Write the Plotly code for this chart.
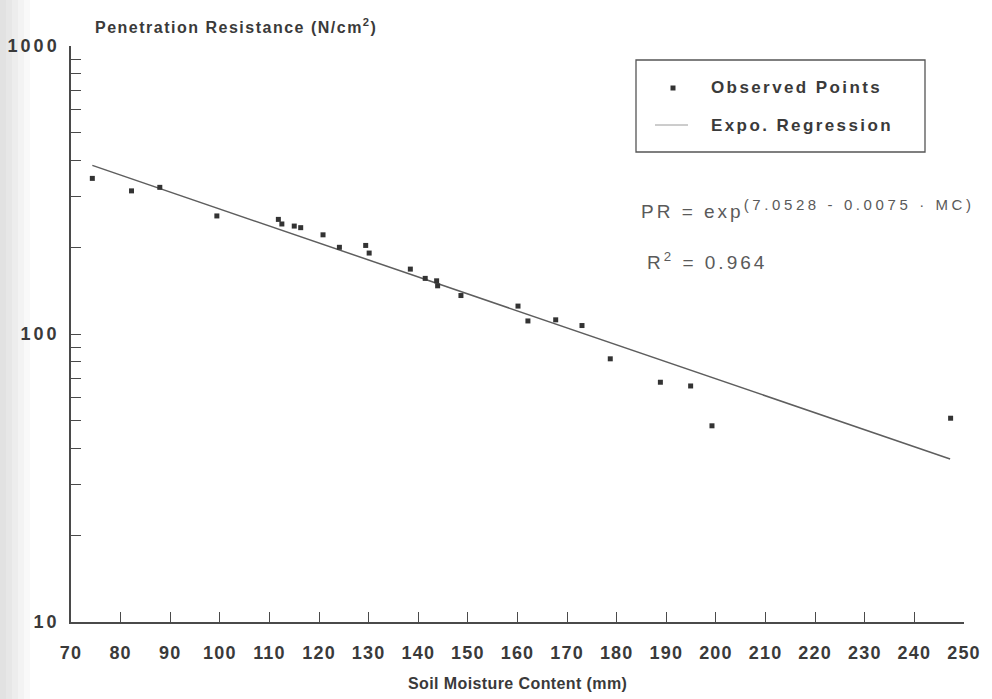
import plotly.graph_objects as go

# Observed soil moisture (mm) and penetration resistance (N/cm^2)
moisture_mm = [74.3, 82.2, 87.9, 99.4, 111.8, 112.5, 115.0, 116.3, 120.8, 124.1,
               129.4, 130.1, 138.4, 141.4, 143.7, 143.9, 148.6, 160.1, 162.1, 167.7,
               173.0, 178.7, 188.8, 194.9, 199.2, 247.3]
resistance = [347, 314, 323, 257, 250, 241, 237, 234, 221, 200,
              203, 191, 168, 156, 153, 147, 136, 125, 111, 112,
              107, 82, 68, 66, 48, 51]

# Exponential regression line end points
fit_mm = [74.3, 247.2]
fit_pr = [385, 36.8]

# Axis ticks
x_ticks = list(range(70, 251, 10))
y_major = [10, 100, 1000]
y_minor = [20, 30, 40, 50, 60, 70, 80, 90,
           200, 300, 400, 500, 600, 700, 800, 900]

W, H = 992, 699
L, R, T, B = 71, 28, 46, 77
PW, PH = W - L - R, H - T - B


def px(x):
    return (x - L) / PW


def py(y):
    return (H - B - y) / PH


def spaced(text, sp, size=None):
    extra = f"font-size:{size}px;" if size else ""
    return f"<span style='{extra}letter-spacing:{sp}px'>{text}</span>"


INK = "#3a3a3a"
AXIS = "#4a4a4a"

fig = go.Figure()
fig.add_trace(go.Scatter(
    x=fit_mm, y=fit_pr, mode="lines",
    line=dict(color="#5e5e5e", width=1.5),
    showlegend=False, hoverinfo="skip"))
fig.add_trace(go.Scatter(
    x=moisture_mm, y=resistance, mode="markers",
    marker=dict(symbol="square", size=5, color="#333333"),
    showlegend=False))

tick_font = dict(family="Liberation Sans, Arial, sans-serif", size=18, color=INK, weight="bold")

fig.update_xaxes(
    range=[70, 250], tickvals=x_ticks,
    ticktext=[spaced(str(v), 1.2) for v in x_ticks],
    showline=True, linecolor=AXIS, linewidth=1.5,
    ticks="inside", ticklen=10, tickwidth=1.2, tickcolor=AXIS,
    showgrid=False, zeroline=False, tickfont=tick_font, ticklabelstandoff=14)
fig.update_yaxes(
    type="log", range=[1, 3], tickvals=y_major,
    ticktext=[spaced(str(v), 3) for v in y_major],
    showline=True, linecolor=AXIS, linewidth=1.5,
    ticks="inside", ticklen=10, tickwidth=1.2, tickcolor=AXIS,
    minor=dict(tickvals=y_minor, ticks="inside", ticklen=10, tickwidth=1.2,
               tickcolor=AXIS, showgrid=False),
    showgrid=False, zeroline=False, tickfont=tick_font, ticklabelstandoff=6)

label_font = dict(family="Liberation Sans, Arial, sans-serif", size=16, color=INK, weight="bold")
eq_font = dict(family="Liberation Sans, Arial, sans-serif", size=19, color="#5a5a5a")

annotations = [
    dict(x=px(93), y=py(26), xanchor="left", yanchor="middle",
         text=spaced("Penetration Resistance (N/cm<sup>2</sup>)", 1.5), font=label_font),
    dict(x=px(517), y=py(683), xanchor="center", yanchor="middle",
         text=spaced("Soil Moisture Content (mm)", 0.4), font=dict(label_font, size=16)),
    dict(x=px(709), y=py(88), xanchor="left", yanchor="middle",
         text=spaced("Observed Points", 2.4), font=dict(label_font, size=17)),
    dict(x=px(709), y=py(125), xanchor="left", yanchor="middle",
         text=spaced("Expo. Regression", 2.4), font=dict(label_font, size=17)),
    dict(x=px(639), y=py(209), xanchor="left", yanchor="middle",
         text=spaced("PR = exp", 3) + "<sup>" + spaced("(7.0528 - 0.0075 · MC)", 3.6, 15) + "</sup>",
         font=eq_font),
    dict(x=px(645), y=py(261), xanchor="left", yanchor="middle",
         text=spaced("R<sup>2</sup> = 0.964", 3), font=eq_font),
]
for a in annotations:
    a.update(xref="paper", yref="paper", showarrow=False)

shapes = [
    # legend frame
    dict(type="rect", x0=px(636), x1=px(925), y0=py(60), y1=py(152),
         line=dict(color="#555555", width=1.3)),
    # legend symbols
    dict(type="rect", x0=px(670.5), x1=px(675.5), y0=py(85.5), y1=py(90.5),
         fillcolor="#333333", line=dict(width=0)),
    dict(type="line", x0=px(655), x1=px(688), y0=py(125), y1=py(125),
         line=dict(color="#9a9a9a", width=1)),
]
# faint grey shading along the left edge of the page
for w in (30, 24, 18, 12, 6):
    shapes.append(dict(type="rect", x0=px(0), x1=px(w), y0=py(H), y1=py(0),
                       fillcolor="rgba(140,140,140,0.05)", line=dict(width=0), layer="below"))
for s in shapes:
    s.update(xref="paper", yref="paper")

fig.update_layout(
    width=W, height=H,
    margin=dict(l=L, r=R, t=T, b=B, autoexpand=False),
    paper_bgcolor="white", plot_bgcolor="white",
    annotations=annotations, shapes=shapes, showlegend=False)

fig.write_html("out.html")
